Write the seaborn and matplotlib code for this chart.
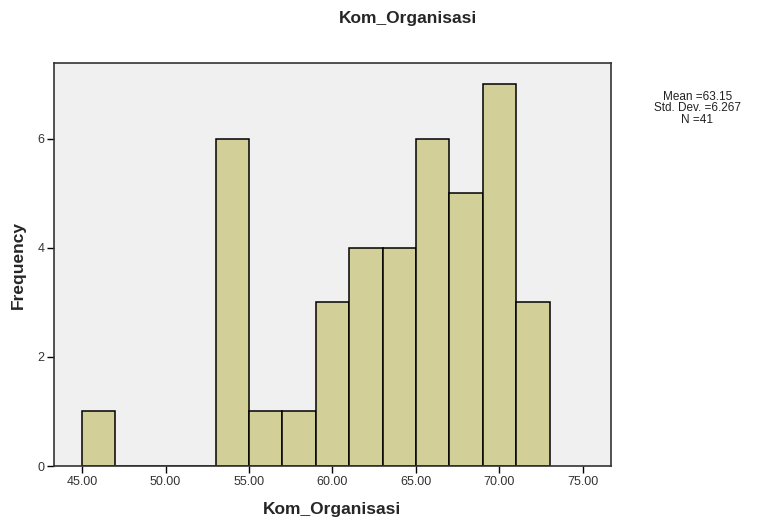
import matplotlib
matplotlib.use("Agg")
import matplotlib.pyplot as plt
import numpy as np
import seaborn as sns

# histogram bins (width 2) and frequencies
bin_edges = [45, 47, 49, 51, 53, 55, 57, 59, 61, 63, 65, 67, 69, 71, 73]
counts = [1, 0, 0, 0, 6, 1, 1, 3, 4, 4, 6, 5, 7, 3]
x_ticks = [45, 50, 55, 60, 65, 70, 75]
y_ticks = [0, 2, 4, 6]
stats_text = "Mean =63.15\nStd. Dev. =6.267\nN =41"

sns.set_style("white")
plt.rcParams['font.family'] = ['Liberation Sans', 'DejaVu Sans']

centers = [(a + b) / 2 for a, b in zip(bin_edges[:-1], bin_edges[1:])]

fig = plt.figure(figsize=(7.62, 5.2), dpi=100)
ax = fig.add_axes([0.0709, 0.1038, 0.7309, 0.775])
ax.set_facecolor("#f0f0f0")

sns.histplot(x=centers, weights=counts, bins=bin_edges, ax=ax,
             color="#d3cf98", alpha=1, edgecolor="black", linewidth=1.1)

ax.set_xlim(43.32, 76.68)
ax.set_ylim(0, 7.39)
ax.set_xticks(x_ticks)
ax.set_xticklabels([f"{v:.2f}" for v in x_ticks], fontsize=9, color="#333333")
ax.set_yticks(y_ticks)
ax.set_yticklabels([str(v) for v in y_ticks], fontsize=9, color="#333333")
ax.tick_params(axis="both", direction="out", length=5, width=1, color="black",
               bottom=True, left=True, pad=2)

for s in ax.spines.values():
    s.set_color("#333333")
    s.set_linewidth(1.2)

ax.set_xlabel("Kom_Organisasi", fontsize=12.5, fontweight="bold", labelpad=10)
ax.set_ylabel("Frequency", fontsize=12.5, fontweight="bold", labelpad=8)
fig.text(0.535, 0.965, "Kom_Organisasi", ha="center", va="center",
         fontsize=12.5, fontweight="bold")
fig.text(0.915, 0.792, stats_text, ha="center", va="center",
         fontsize=8.5, linespacing=0.95, color="#222222")

fig.savefig("out.png", dpi=100)
